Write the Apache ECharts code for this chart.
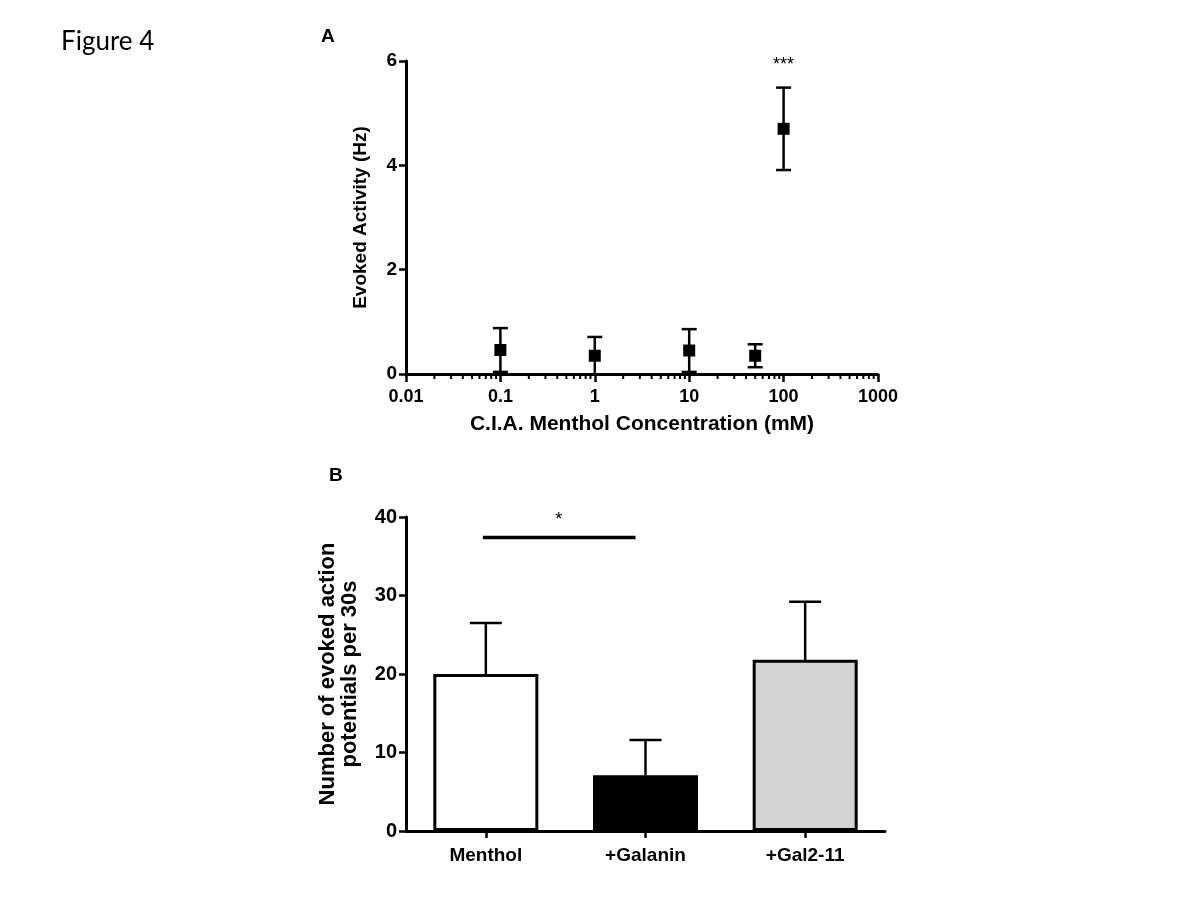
<!DOCTYPE html>
<html>
<head>
<meta charset="utf-8">
<title>Figure 4</title>
<script src="https://cdn.jsdelivr.net/npm/echarts@6/dist/echarts.min.js"></script>
<style>
  html, body { margin: 0; padding: 0; background: #fff; }
  #chart { width: 1200px; height: 900px; }
</style>
</head>
<body>
<div id="chart"></div>
<script>
// panel A - dose response
var concentrations = [0.1, 1, 10, 50, 100];
var activityMean = [0.46, 0.35, 0.45, 0.35, 4.7];
var activitySem = [0.42, 0.36, 0.41, 0.22, 0.79];
var concTickLabels = ['0.01', '0.1', '1', '10', '100', '1000'];
var minorMultipliers = [2, 3, 4, 5, 6, 7, 8, 9];

// panel B - bars
var groups = ['Menthol', '+Galanin', '+Gal2-11'];
var apMean = [20.0, 7.1, 21.8];
var apSem = [6.5, 4.5, 7.4];
var barColors = ['#ffffff', '#000000', '#d3d3d3'];

var font = '"Liberation Sans", Arial, sans-serif';

// minor ticks of the log axis (2..9 in every decade)
var minorTicks = [];
[0.01, 0.1, 1, 10, 100].forEach(function (d) {
  minorMultipliers.forEach(function (m) { minorTicks.push([d * m, 0]); });
});

var errA = concentrations.map(function (c, i) {
  return [c, activityMean[i] - activitySem[i], activityMean[i] + activitySem[i]];
});
var errB = groups.map(function (g, i) {
  return [i, apMean[i], apMean[i] + apSem[i]];
});

function errorBar(capHalf, lower) {
  return function (params, api) {
    var hi = api.coord([api.value(0), api.value(2)]);
    var lo = api.coord([api.value(0), api.value(1)]);
    var st = { stroke: '#000', lineWidth: 2.5 };
    var kids = [
      { type: 'line', shape: { x1: hi[0], y1: hi[1], x2: lo[0], y2: lo[1] }, style: st },
      { type: 'line', shape: { x1: hi[0] - capHalf, y1: hi[1], x2: hi[0] + capHalf, y2: hi[1] }, style: st }
    ];
    if (lower) {
      kids.push({ type: 'line', shape: { x1: lo[0] - capHalf, y1: lo[1], x2: lo[0] + capHalf, y2: lo[1] }, style: st });
    }
    return { type: 'group', children: kids };
  };
}

var chart = echarts.init(document.getElementById('chart'));

var option = {
  backgroundColor: '#fff',
  animation: false,
  title: [
    { text: 'Figure 4', left: 56, top: 24, textStyle: { fontFamily: 'Lato, "Open Sans", sans-serif', fontWeight: 'normal', fontSize: 26, color: '#000' } },
    { text: 'A', left: 316, top: 22, textStyle: { fontFamily: font, fontWeight: 'bold', fontSize: 19, color: '#000' } },
    { text: 'B', left: 324, top: 461, textStyle: { fontFamily: font, fontWeight: 'bold', fontSize: 19, color: '#000' } }
  ],
  grid: [
    { left: 406, top: 61, width: 472, height: 313 },
    { left: 406, top: 517, width: 479, height: 314 }
  ],
  xAxis: [
    {
      gridIndex: 0, type: 'log', logBase: 10, min: 0.01, max: 1000,
      name: 'C.I.A. Menthol Concentration (mM)', nameLocation: 'middle', nameGap: 40,
      nameTextStyle: { fontFamily: font, fontWeight: 'bold', fontSize: 21, color: '#000' },
      axisLine: { lineStyle: { color: '#000', width: 3 } },
      axisTick: { show: true, length: 8, lineStyle: { color: '#000', width: 2.5 } },
      axisLabel: {
        fontFamily: font, fontWeight: 'bold', fontSize: 18, color: '#000', margin: 14,
        formatter: function (v) {
          var i = Math.round(Math.log10(v)) + 2;
          return concTickLabels[i] !== undefined ? concTickLabels[i] : '';
        }
      },
      splitLine: { show: false }
    },
    {
      gridIndex: 1, type: 'category', data: groups,
      axisLine: { lineStyle: { color: '#000', width: 3 } },
      axisTick: { show: true, alignWithLabel: true, length: 7, lineStyle: { color: '#000', width: 2.5 } },
      axisLabel: { fontFamily: font, fontWeight: 'bold', fontSize: 19, color: '#000', margin: 15 }
    }
  ],
  yAxis: [
    {
      gridIndex: 0, type: 'value', min: 0, max: 6, interval: 2,
      name: 'Evoked Activity (Hz)', nameLocation: 'middle', nameGap: 36,
      nameTextStyle: { fontFamily: font, fontWeight: 'bold', fontSize: 19, color: '#000' },
      axisLine: { show: true, lineStyle: { color: '#000', width: 3 } },
      axisTick: { show: true, length: 7, lineStyle: { color: '#000', width: 2.5 } },
      axisLabel: { fontFamily: font, fontWeight: 'bold', fontSize: 19, color: '#000', margin: 9 },
      splitLine: { show: false }
    },
    {
      gridIndex: 1, type: 'value', min: 0, max: 40, interval: 10,
      name: 'Number of evoked action\npotentials per 30s', nameLocation: 'middle', nameGap: 45,
      nameTextStyle: { fontFamily: font, fontWeight: 'bold', fontSize: 22, color: '#000', lineHeight: 22 },
      axisLine: { show: true, lineStyle: { color: '#000', width: 3 } },
      axisTick: { show: true, length: 7, lineStyle: { color: '#000', width: 2.5 } },
      axisLabel: { fontFamily: font, fontWeight: 'bold', fontSize: 20, color: '#000', margin: 9 },
      splitLine: { show: false }
    }
  ],
  series: [
    {
      name: 'minor ticks', type: 'custom', xAxisIndex: 0, yAxisIndex: 0, silent: true,
      data: minorTicks, clip: false,
      renderItem: function (params, api) {
        var p = api.coord([api.value(0), 0]);
        return { type: 'line', shape: { x1: p[0], y1: p[1], x2: p[0], y2: p[1] + 5 }, style: { stroke: '#000', lineWidth: 2 } };
      }
    },
    {
      name: 'sem A', type: 'custom', xAxisIndex: 0, yAxisIndex: 0, data: errA, z: 3,
      encode: { x: 0, y: [1, 2] }, renderItem: errorBar(7.5, true)
    },
    {
      name: 'mean A', type: 'scatter', xAxisIndex: 0, yAxisIndex: 0, z: 4,
      symbol: 'rect', symbolSize: 12, itemStyle: { color: '#000', opacity: 1 },
      data: concentrations.map(function (c, i) { return [c, activityMean[i]]; })
    },
    {
      name: 'sig A', type: 'custom', xAxisIndex: 0, yAxisIndex: 0, data: [[100, 5.93]], silent: true,
      renderItem: function (params, api) {
        var p = api.coord([api.value(0), api.value(1)]);
        return { type: 'text', x: p[0], y: p[1], style: { text: '***', fill: '#000', font: '18px ' + font, align: 'center', verticalAlign: 'middle' } };
      }
    },
    {
      name: 'bars', type: 'bar', xAxisIndex: 1, yAxisIndex: 1, barWidth: 105,
      data: apMean.map(function (v, i) {
        return { value: v, itemStyle: { color: barColors[i], borderColor: '#000', borderWidth: 3 } };
      })
    },
    {
      name: 'sem B', type: 'custom', xAxisIndex: 1, yAxisIndex: 1, data: errB, z: 3,
      encode: { x: 0, y: [1, 2] }, renderItem: errorBar(16, false)
    },
    {
      name: 'sig B', type: 'custom', xAxisIndex: 1, yAxisIndex: 1, data: [[0, 1, 37.4]], silent: true,
      renderItem: function (params, api) {
        var a = api.coord([api.value(0), api.value(2)]);
        var b = api.coord([api.value(1), api.value(2)]);
        b[0] -= 10;
        return {
          type: 'group', children: [
            { type: 'line', shape: { x1: a[0] - 3, y1: a[1], x2: b[0], y2: b[1] }, style: { stroke: '#000', lineWidth: 3.5 } },
            { type: 'text', x: (a[0] + b[0]) / 2 - 2, y: a[1] - 17, style: { text: '*', fill: '#000', font: '18px ' + font, align: 'center', verticalAlign: 'middle' } }
          ]
        };
      }
    }
  ]
};

chart.setOption(option);
</script>
</body>
</html>
